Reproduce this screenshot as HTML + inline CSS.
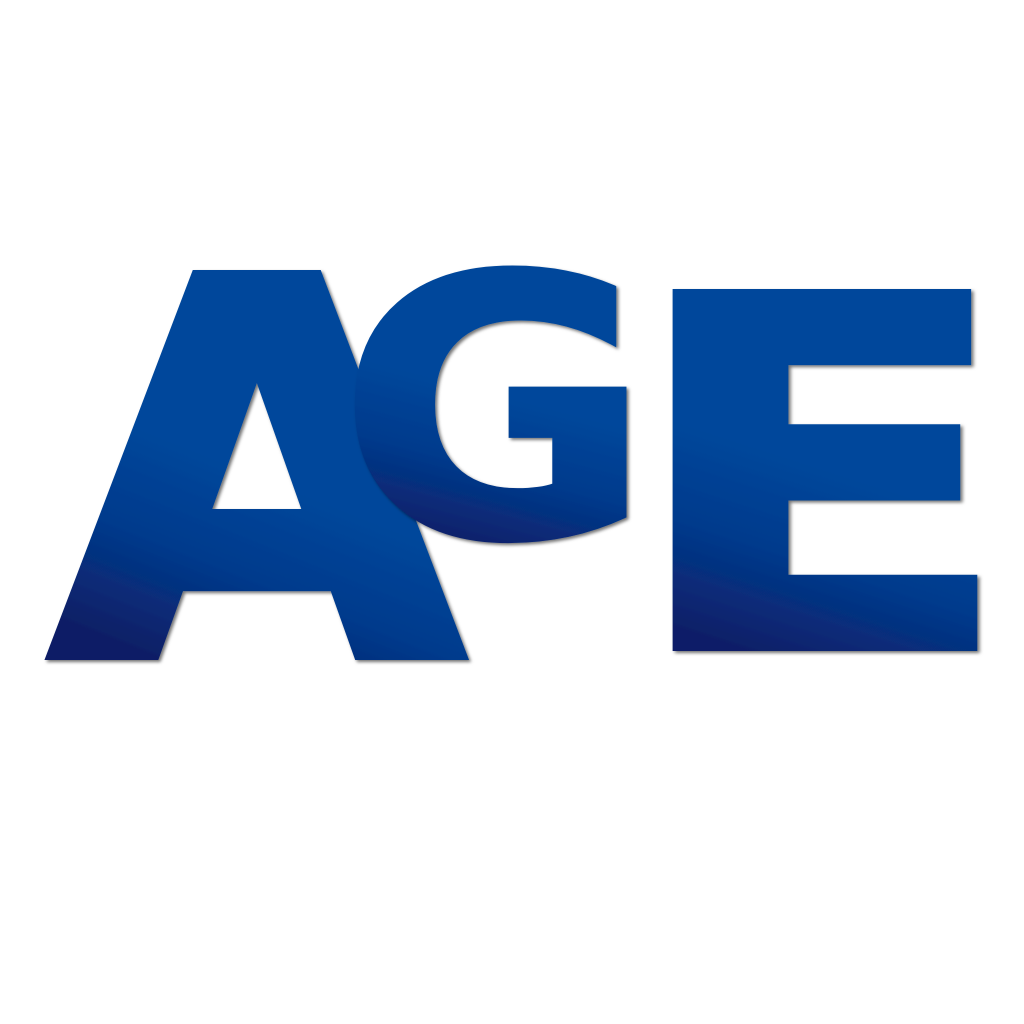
<!DOCTYPE html>
<html lang="en">
<head>
<meta charset="utf-8">
<title>AGE logo</title>
<style>
html,body{margin:0;padding:0;background:#fff;width:1024px;height:1024px;overflow:hidden}
svg{display:block}
text{font-family:"DejaVu Sans","Liberation Sans",sans-serif;font-weight:700;stroke-linejoin:miter;stroke-miterlimit:6}
</style>
</head>
<body>
<svg width="1024" height="1024" viewBox="0 0 1024 1024" xmlns="http://www.w3.org/2000/svg">
<defs>
<linearGradient id="gradA" gradientUnits="userSpaceOnUse" x1="214" y1="-174" x2="136" y2="16">
<stop offset="0" stop-color="#04479b"/><stop offset="0.48" stop-color="#043a8c"/><stop offset="1" stop-color="#0a1f66"/>
</linearGradient>
<linearGradient id="gradG" gradientUnits="userSpaceOnUse" x1="171" y1="-135" x2="129" y2="15">
<stop offset="0" stop-color="#04479b"/><stop offset="0.48" stop-color="#043a8c"/><stop offset="1" stop-color="#0a1f68"/>
</linearGradient>
<linearGradient id="gradE" gradientUnits="userSpaceOnUse" x1="200.7" y1="-167.5" x2="132.6" y2="12.5">
<stop offset="0" stop-color="#04479b"/><stop offset="0.48" stop-color="#043a8c"/><stop offset="1" stop-color="#0a1f68"/>
</linearGradient>
<filter id="shadow" x="-10%" y="-10%" width="125%" height="125%">
<feDropShadow dx="2" dy="2" stdDeviation="1.6" flood-color="#000" flood-opacity="0.55"/>
</filter>
</defs>
<rect x="0" y="0" width="1024" height="1024" fill="#ffffff"/>
<text transform="translate(50.7 654) scale(1.027 1)" font-size="518.5" filter="url(#shadow)" style="fill:url(#gradA);stroke:url(#gradA);stroke-width:12">A</text>
<text transform="translate(339 535) scale(1.06 1)" font-size="359" filter="url(#shadow)" style="fill:url(#gradG);stroke:url(#gradG);stroke-width:6">G</text>
<text transform="translate(624.2 647.5) scale(1.175 1)" font-size="487" filter="url(#shadow)" style="fill:url(#gradE);stroke:url(#gradE);stroke-width:7">E</text>
</svg>
</body>
</html>
